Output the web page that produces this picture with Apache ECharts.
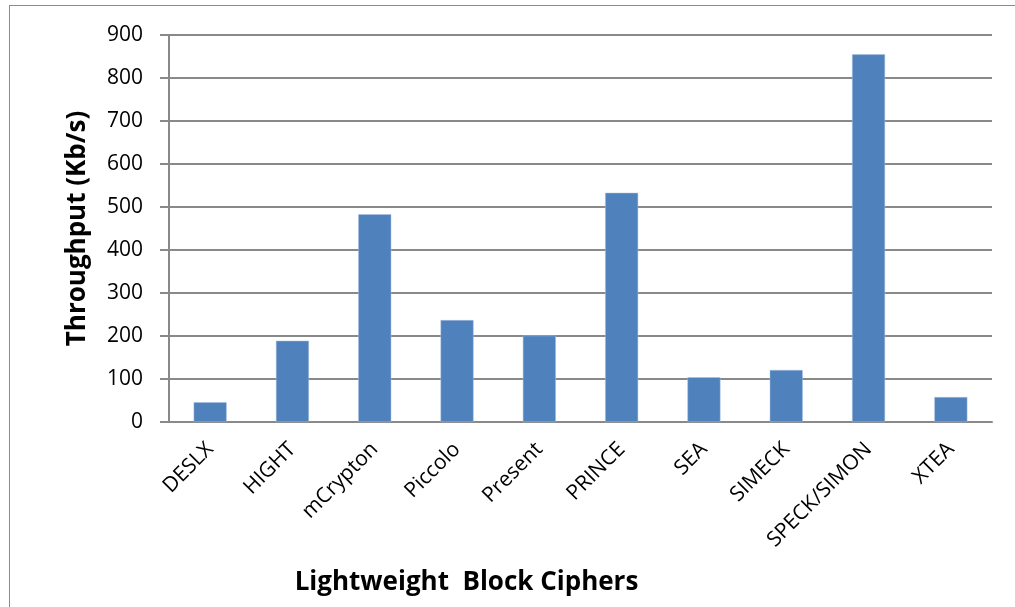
<!DOCTYPE html>
<html>
<head>
    <meta charset="utf-8">
    <script src="https://cdn.jsdelivr.net/npm/echarts@6/dist/echarts.min.js"></script>
    <style>
        body { margin: 0; background: #fff; }
        #frame { position: absolute; left: 9px; top: 5px; width: 1100px; height: 700px; border: 1px solid #8c8c8c; }
    </style>
</head>
<body>
    <div id="frame"></div>
    <div id="main" style="position:absolute;left:0;top:0;width:1015px;height:607px;"></div>
    <script type="text/javascript">
        // 分类与数值
        var ciphers = ['DESLX', 'HIGHT', 'mCrypton', 'Piccolo', 'Present', 'PRINCE', 'SEA', 'SIMECK', 'SPECK/SIMON', 'XTEA'];
        var throughput = [46, 189, 483, 237, 201, 533, 104, 121, 855, 58];
        var gridColor = '#898989';

        var myChart = echarts.init(document.getElementById('main'));
        myChart.setOption({
            animation: false,
            grid: { left: 169, top: 35, right: 23, bottom: 185 },
            xAxis: {
                type: 'category',
                data: ciphers,
                name: 'Lightweight  Block Ciphers',
                nameLocation: 'middle',
                nameGap: 148,
                nameTextStyle: { fontFamily: 'Open Sans', fontWeight: 'bold', fontSize: 26, color: '#000', padding: [0, 0, 0, -228] },
                axisLine: { lineStyle: { color: gridColor, width: 2 } },
                axisTick: { length: 8, lineStyle: { color: gridColor, width: 2 } },
                axisLabel: { rotate: 45, margin: 24, fontFamily: 'Open Sans', fontSize: 21, color: '#000' }
            },
            yAxis: {
                type: 'value',
                min: 0,
                max: 900,
                interval: 100,
                name: 'Throughput (Kb/s)',
                nameLocation: 'middle',
                nameGap: 78,
                nameRotate: 90,
                nameTextStyle: { fontFamily: 'Open Sans', fontWeight: 'bold', fontSize: 26, color: '#000' },
                axisLine: { show: true, lineStyle: { color: gridColor, width: 2 } },
                axisTick: { show: true, length: 9, lineStyle: { color: gridColor, width: 2 } },
                axisLabel: { margin: 26, fontFamily: 'Open Sans', fontSize: 21, color: '#000' },
                splitLine: { lineStyle: { color: gridColor, width: 2 } }
            },
            series: [{
                name: 'Throughput',
                type: 'bar',
                data: throughput,
                barWidth: 33,
                itemStyle: { color: '#4f81bd', borderColor: '#a9c0e0', borderWidth: 0.5 }
            }]
        });
    </script>
</body>
</html>
